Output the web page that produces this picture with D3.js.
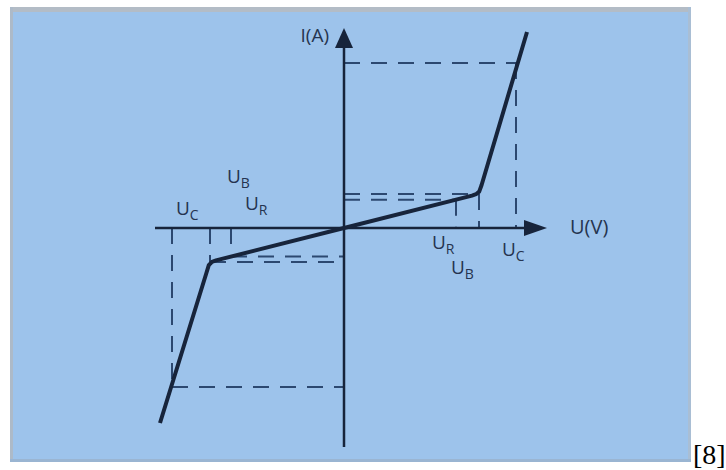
<!DOCTYPE html>
<html>
<head>
<meta charset="utf-8">
<script src="https://cdn.jsdelivr.net/npm/d3@7"></script>
<style>
  html, body { margin: 0; padding: 0; background: #ffffff; }
  svg { display: block; }
</style>
</head>
<body>
<div id="chart"></div>
<script>
// ---- data (arbitrary units; origin at U=0, I=0) ----
const curveU = [-92, -68.8, -67.6, -66, -64, 0, 64, 66, 67.6, 68.8, 91.5];
const curveI = [-97.5, -22.5, -18.6, -16.9, -16.2, 0, 16.2, 16.9, 18.2, 21.5, 98];

// characteristic reference levels
const levelNames = ["U_C", "U_B", "U_R"];
const levelUpos = [86, 67.5, 56];       // positive-side voltages
const levelIpos = [82.5, 17, 14.1];     // corresponding currents (positive side)
const levelUneg = [-86, -67, -56.5];    // negative-side voltages
const levelIneg = [-79.5, -17, -14.2];  // corresponding currents (negative side)

// axis extents
const xAxisExtent = [-94.5, 101.5];
const yAxisExtent = [-109.5, 100];
const axisTitles = ["U(V)", "I(A)"];
const footnote = "[8]";

// ---- layout ----
const W = 726, H = 470;
const svg = d3.select("#chart").append("svg").attr("width", W).attr("height", H);

// panel
svg.append("rect").attr("x", 10).attr("y", 7).attr("width", 681).attr("height", 455)
  .attr("fill", "#9dc3eb");
svg.append("rect").attr("x", 10).attr("y", 7).attr("width", 681).attr("height", 5)
  .attr("fill", "#b3bcc6");
svg.append("rect").attr("x", 10).attr("y", 7).attr("width", 3).attr("height", 455)
  .attr("fill", "#adbac8");
svg.append("rect").attr("x", 688).attr("y", 7).attr("width", 3).attr("height", 455)
  .attr("fill", "#a9bed4");
svg.append("rect").attr("x", 10).attr("y", 459).attr("width", 681).attr("height", 3)
  .attr("fill", "#9ab5d2");

const x = d3.scaleLinear().domain([-100, 100]).range([144, 544]);
const y = d3.scaleLinear().domain([-100, 100]).range([428, 28]);

const ink = "#17243b";
const dashInk = "#2c4870";
const textInk = "#25344f";
const dash = "16,11";

// ---- dashed reference lines ----
const g = svg.append("g").attr("fill", "none").attr("stroke", dashInk)
  .attr("stroke-width", 2).attr("stroke-dasharray", dash);

function seg(x1, y1, x2, y2) {
  g.append("line").attr("x1", x(x1)).attr("y1", y(y1)).attr("x2", x(x2)).attr("y2", y(y2));
}
levelUpos.forEach((u, i) => {
  seg(0, levelIpos[i], u, levelIpos[i]);           // horizontal to I axis
  seg(u, levelIpos[i], u, 0);                      // vertical to U axis
});
levelUneg.forEach((u, i) => {
  seg(u, levelIneg[i], 0, levelIneg[i]);
  seg(u, 0, u, levelIneg[i]);
});

// ---- axes ----
svg.append("line").attr("x1", x(xAxisExtent[0])).attr("y1", y(0))
  .attr("x2", x(xAxisExtent[1]) - 18).attr("y2", y(0))
  .attr("stroke", ink).attr("stroke-width", 2.5);
svg.append("path")
  .attr("d", `M${x(xAxisExtent[1])},${y(0)} L${x(xAxisExtent[1]) - 23},${y(0) - 8} L${x(xAxisExtent[1]) - 23},${y(0) + 8} Z`)
  .attr("fill", ink);

svg.append("line").attr("x1", x(0)).attr("y1", y(yAxisExtent[0]))
  .attr("x2", x(0)).attr("y2", y(yAxisExtent[1]) + 16)
  .attr("stroke", ink).attr("stroke-width", 2.5);
svg.append("path")
  .attr("d", `M${x(0)},${y(yAxisExtent[1])} L${x(0) - 9},${y(yAxisExtent[1]) + 20} L${x(0) + 9},${y(yAxisExtent[1]) + 20} Z`)
  .attr("fill", ink);

// ---- characteristic curve ----
const pts = curveU.map((u, i) => [u, curveI[i]]);
svg.append("path").datum(pts)
  .attr("d", d3.line().x(d => x(d[0])).y(d => y(d[1])).curve(d3.curveLinear))
  .attr("fill", "none").attr("stroke", ink).attr("stroke-width", 4)
  .attr("stroke-linejoin", "round").attr("stroke-linecap", "butt");

// ---- labels ----
const font = "'Open Sans', 'Noto Sans', sans-serif";
function subLabel(name, px, py) {
  const [main, sub] = name.split("_");
  const t = svg.append("text").attr("x", px).attr("y", py)
    .attr("font-family", font).attr("font-size", 19).attr("fill", textInk);
  t.append("tspan").text(main);
  t.append("tspan").attr("dy", 5).attr("font-size", 14).text(sub);
}
// left side (negative)
subLabel("U_C", 176, 215);
subLabel("U_B", 227, 183);
subLabel("U_R", 245, 210);
// right side (positive)
subLabel("U_R", 432, 249);
subLabel("U_B", 451, 274);
subLabel("U_C", 502, 256);

svg.append("text").attr("x", 570).attr("y", 234)
  .attr("font-family", font).attr("font-size", 20).attr("fill", textInk)
  .text(axisTitles[0]);
svg.append("text").attr("x", 329).attr("y", 42).attr("text-anchor", "end")
  .attr("font-family", font).attr("font-size", 19).attr("fill", textInk)
  .text(axisTitles[1]);

svg.append("text").attr("x", 693).attr("y", 464)
  .attr("font-family", "'Liberation Serif', 'DejaVu Serif', serif")
  .attr("font-size", 28).attr("fill", "#000")
  .text(footnote);
</script>
</body>
</html>
